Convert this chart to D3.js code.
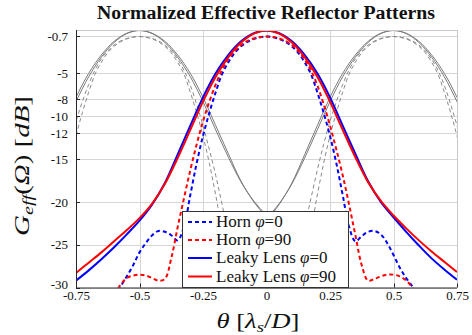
<!DOCTYPE html>
<html>
<head>
<meta charset="utf-8">
<script src="https://cdn.jsdelivr.net/npm/d3@7"></script>
<style>
  body { margin: 0; background: #fff; }
  svg { display: block; font-family: "Liberation Serif", "Times New Roman", serif; }
</style>
</head>
<body>
<svg id="chart" width="472" height="335"></svg>
<script>
// angle samples (lambda_s / D)
var thetaLens = [-0.75, -0.70, -0.65, -0.60, -0.55, -0.50, -0.45, -0.40, -0.35, -0.30, -0.25, -0.20, -0.15, -0.10, -0.05,
                 0, 0.05, 0.10, 0.15, 0.20, 0.25, 0.30, 0.35, 0.40, 0.45, 0.50, 0.55, 0.60, 0.65, 0.70, 0.75];
var thetaHorn = [-0.6, -0.575, -0.55, -0.525, -0.5, -0.475, -0.45, -0.425, -0.4, -0.375, -0.35, -0.325, -0.3, -0.275, -0.25,
                 -0.225, -0.2, -0.175, -0.15, -0.125, -0.1, -0.075, -0.05, -0.025, 0,
                 0.025, 0.05, 0.075, 0.1, 0.125, 0.15, 0.175, 0.2, 0.225, 0.25, 0.275, 0.3, 0.325, 0.35, 0.375,
                 0.4, 0.425, 0.45, 0.475, 0.5, 0.525, 0.55, 0.575, 0.6];

// leaky lens patterns [dB]
var lensPhi0 = [-29.2, -28.0, -26.7, -25.3, -23.8, -22.2, -20.3, -17.8, -14.5, -11.1, -7.8, -5.0, -2.85, -1.27, -0.32,
                0, -0.32, -1.27, -2.85, -5.0, -7.8, -11.1, -14.4, -17.6, -20.0, -21.8, -23.5, -25.1, -26.6, -27.9, -29.1];
var lensPhi90 = [-28.3, -27.1, -25.9, -24.6, -23.3, -21.9, -20.2, -17.9, -14.9, -11.6, -8.3, -5.4, -3.1, -1.4, -0.36,
                 0, -0.36, -1.4, -3.1, -5.4, -8.3, -11.6, -14.8, -17.7, -19.9, -21.6, -23.1, -24.5, -25.8, -27.0, -28.2];

// horn patterns [dB]
var hornPhi0 = [-31.0, -29.9, -28.7, -27.4, -25.9, -24.8, -23.9, -23.4, -23.5, -23.9, -24.5, -22.9, -19.2, -15.5, -12.3,
                -9.6, -7.2, -5.1, -3.7, -2.6, -1.85, -1.33, -0.98, -0.78, -0.7,
                -0.78, -0.98, -1.33, -1.85, -2.6, -3.7, -5.1, -7.2, -9.6, -12.3, -15.5, -19.2, -22.9, -24.6, -24.0,
                -23.5, -23.4, -23.8, -24.8, -26.2, -27.7, -28.9, -29.9, -31.0];
var hornPhi90 = [-30.8, -29.7, -28.9, -28.6, -28.5, -28.6, -28.9, -29.2, -29.0, -26.6, -23.0, -19.6, -16.3, -13.3, -10.6,
                 -8.3, -6.3, -4.6, -3.3, -2.4, -1.7, -1.22, -0.93, -0.77, -0.7,
                 -0.77, -0.93, -1.22, -1.7, -2.4, -3.35, -4.65, -6.4, -8.6, -11.1, -13.9, -16.9, -20.3, -23.9, -27.4,
                 -29.2, -29.0, -28.7, -28.5, -28.5, -28.7, -29.2, -30.0, -31.0];

// neighbouring feeds are displaced by this much
var feedShifts = [-0.5, 0.5];

var xTicks = [-0.75, -0.5, -0.25, 0, 0.25, 0.5, 0.75];
var yTicks = [-0.7, -5, -8, -10, -12, -15, -20, -25, -30];

var svg = d3.select("#chart");
// plot box (note: "top" is a reserved window property, so use other names)
var pLeft = 76, pRight = 457, pTop = 30, pBottom = 287.5;

var x = d3.scaleLinear().domain([-0.75, 0.75]).range([pLeft, pRight]);
var y = d3.scaleLinear().domain([-30, 0]).range([pBottom, 30.5]);

svg.append("defs").append("clipPath").attr("id", "plot-clip")
  .append("rect")
    .attr("x", pLeft).attr("y", pTop)
    .attr("width", pRight - pLeft).attr("height", pBottom - pTop);

// grid
var grid = svg.append("g").attr("stroke", "#d6d6d6").attr("stroke-width", 1);
grid.selectAll(".gy").data(yTicks).enter().append("line")
  .attr("x1", pLeft).attr("x2", pRight)
  .attr("y1", function(d) { return Math.round(y(d)) + 0.5; })
  .attr("y2", function(d) { return Math.round(y(d)) + 0.5; });
grid.selectAll(".gx").data(xTicks).enter().append("line")
  .attr("y1", pTop).attr("y2", pBottom)
  .attr("x1", function(d) { return Math.round(x(d)) + 0.5; })
  .attr("x2", function(d) { return Math.round(x(d)) + 0.5; });

var line = d3.line()
  .x(function(d) { return x(d[0]); })
  .y(function(d) { return y(d[1]); })
  .curve(d3.curveCatmullRom.alpha(0.5));

function pairs(ts, vs, shift) {
  return ts.map(function(t, i) { return [t + shift, vs[i]]; });
}

var plot = svg.append("g").attr("clip-path", "url(#plot-clip)");

// shifted copies in gray
feedShifts.forEach(function(s) {
  [hornPhi0, hornPhi90].forEach(function(vs) {
    plot.append("path").attr("d", line(pairs(thetaHorn, vs, s)))
      .attr("fill", "none").attr("stroke", "#8a8a8a").attr("stroke-width", 1)
      .attr("stroke-dasharray", "4,3");
  });
  [lensPhi0, lensPhi90].forEach(function(vs) {
    plot.append("path").attr("d", line(pairs(thetaLens, vs, s)))
      .attr("fill", "none").attr("stroke", "#7a7a7a").attr("stroke-width", 1);
  });
});

var series = [
  { name: "Horn", phi: "0", ts: thetaHorn, vs: hornPhi0, color: "#0000ff", dash: "4,3" },
  { name: "Horn", phi: "90", ts: thetaHorn, vs: hornPhi90, color: "#ff0000", dash: "4,3" },
  { name: "Leaky Lens", phi: "0", ts: thetaLens, vs: lensPhi0, color: "#0000ff", dash: null },
  { name: "Leaky Lens", phi: "90", ts: thetaLens, vs: lensPhi90, color: "#ff0000", dash: null }
];

series.forEach(function(s) {
  plot.append("path").attr("d", line(pairs(s.ts, s.vs, 0)))
    .attr("fill", "none").attr("stroke", s.color).attr("stroke-width", 2)
    .attr("stroke-dasharray", s.dash);
});

// frame: light top/right, dark left/bottom
svg.append("path")
  .attr("d", "M" + pLeft + "," + (pTop + 0.5) + "H" + (pRight + 0.5) + "V" + pBottom)
  .attr("fill", "none").attr("stroke", "#c8c8c8");
svg.append("path")
  .attr("d", "M" + (pLeft + 0.5) + "," + pTop + "V" + (pBottom + 0.5) + "H" + pRight)
  .attr("fill", "none").attr("stroke", "#262626");

// axes
var fmt = function(d) { return String(d); };
var yAxis = svg.append("g").attr("transform", "translate(" + pLeft + ",0)")
  .call(d3.axisLeft(y).tickValues(yTicks).tickSize(0).tickPadding(8).tickFormat(fmt));
var xAxis = svg.append("g").attr("transform", "translate(0," + pBottom + ")")
  .call(d3.axisBottom(x).tickValues(xTicks).tickSize(0).tickPadding(3).tickFormat(fmt));
[xAxis, yAxis].forEach(function(a) {
  a.select(".domain").remove();
  a.attr("font-family", null);
  a.selectAll("text").attr("font-family", "Liberation Serif").attr("font-size", 13).attr("fill", "#111");
});
// the bottom y label sits right on top of the first x label; lift it a little
yAxis.selectAll(".tick text").filter(function(d) { return d === -30; }).attr("dy", "0.05em");

// short inner ticks
svg.append("g").selectAll("line").data(yTicks).enter().append("line")
  .attr("x1", pLeft).attr("x2", pLeft + 4)
  .attr("y1", function(d) { return Math.round(y(d)) + 0.5; })
  .attr("y2", function(d) { return Math.round(y(d)) + 0.5; })
  .attr("stroke", "#262626");
svg.append("g").selectAll("line").data(xTicks).enter().append("line")
  .attr("y1", pBottom).attr("y2", pBottom - 4)
  .attr("x1", function(d) { return Math.round(x(d)) + 0.5; })
  .attr("x2", function(d) { return Math.round(x(d)) + 0.5; })
  .attr("stroke", "#262626");

// title
svg.append("text").attr("x", 266).attr("y", 19).attr("text-anchor", "middle")
  .attr("font-size", 18).attr("font-weight", "bold").attr("fill", "#111")
  .attr("textLength", 338).attr("lengthAdjust", "spacingAndGlyphs")
  .text("Normalized Effective Reflector Patterns");

// x label
var xl = svg.append("text").attr("x", 258).attr("y", 328).attr("text-anchor", "middle")
  .attr("font-size", 20).attr("fill", "#111")
  .attr("textLength", 83).attr("lengthAdjust", "spacingAndGlyphs");
xl.append("tspan").attr("font-style", "italic").text("θ");
xl.append("tspan").text(" [");
xl.append("tspan").attr("font-style", "italic").text("λ");
xl.append("tspan").attr("font-style", "italic").attr("font-size", 14).attr("dy", 4).text("s");
xl.append("tspan").attr("dy", -4).text("/");
xl.append("tspan").attr("font-style", "italic").text("D");
xl.append("tspan").text("]");

// y label
var yl = svg.append("text").attr("transform", "translate(29,166) rotate(-90)")
  .attr("text-anchor", "middle").attr("font-size", 20).attr("fill", "#111")
  .attr("textLength", 140).attr("lengthAdjust", "spacingAndGlyphs");
yl.append("tspan").attr("font-style", "italic").text("G");
yl.append("tspan").attr("font-style", "italic").attr("font-size", 14).attr("dy", 4).text("eff");
yl.append("tspan").attr("dy", -4).text("(");
yl.append("tspan").attr("font-style", "italic").text("Ω");
yl.append("tspan").text(") [");
yl.append("tspan").attr("font-style", "italic").text("dB");
yl.append("tspan").text("]");

// legend
var legend = svg.append("g");
legend.append("rect").attr("x", 182.5).attr("y", 211.5).attr("width", 166).attr("height", 76)
  .attr("fill", "#fff").attr("stroke", "#333");
var rowY = [222, 240, 258, 276.5];
series.forEach(function(s, i) {
  var g = legend.append("g").attr("transform", "translate(0," + rowY[i] + ")");
  g.append("line").attr("x1", 188).attr("x2", 212)
    .attr("stroke", s.color).attr("stroke-width", 2).attr("stroke-dasharray", s.dash);
  var t = g.append("text").attr("x", 216).attr("y", 5).attr("font-size", 17).attr("fill", "#111");
  t.append("tspan").text(s.name + " ");
  t.append("tspan").attr("font-style", "italic").text("φ");
  t.append("tspan").text("=" + s.phi);
});
</script>
</body>
</html>
